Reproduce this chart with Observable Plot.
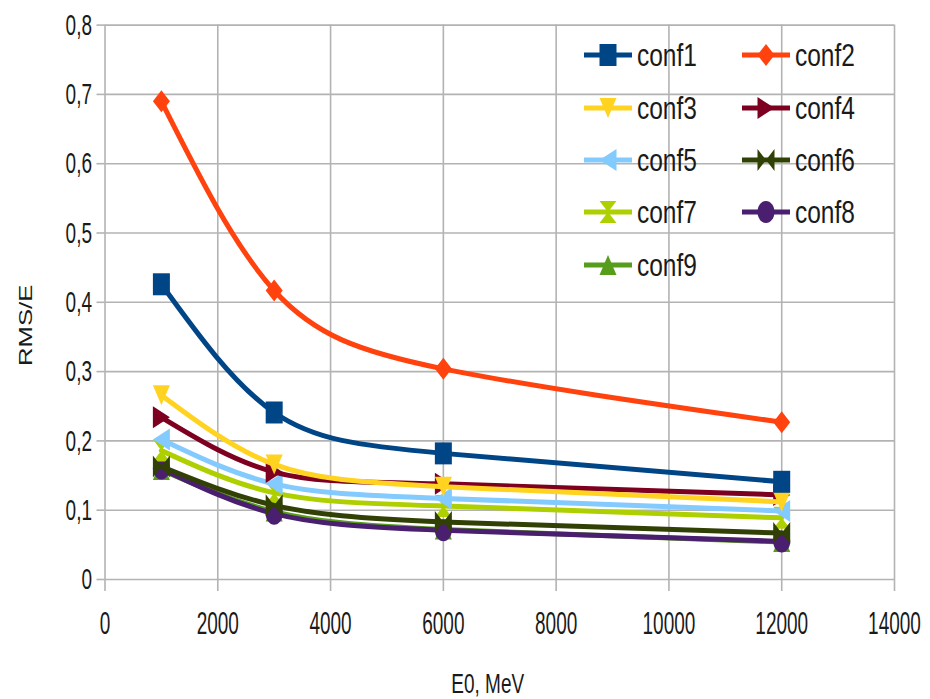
<!DOCTYPE html>
<html>
<head>
<meta charset="utf-8">
<script src="https://cdn.jsdelivr.net/npm/d3@7"></script>
<script src="https://cdn.jsdelivr.net/npm/@observablehq/plot@0.6"></script>
<style>
  html, body { margin: 0; padding: 0; background: #fff; }
  #chart svg { display: block; }
</style>
</head>
<body>
<div id="chart"></div>
<script>
// ---------- data ----------
const energies = [1000, 3000, 6000, 12000];
const seriesNames = ["conf1", "conf2", "conf3", "conf4", "conf5", "conf6", "conf7", "conf8", "conf9"];
const conf1 = [0.426, 0.241, 0.182, 0.141];
const conf2 = [0.690, 0.417, 0.304, 0.227];
const conf3 = [0.266, 0.166, 0.134, 0.112];
const conf4 = [0.234, 0.155, 0.138, 0.122];
const conf5 = [0.202, 0.138, 0.117, 0.099];
const conf6 = [0.163, 0.107, 0.083, 0.067];
const conf7 = [0.186, 0.125, 0.106, 0.089];
const conf8 = [0.160, 0.095, 0.071, 0.055];
const conf9 = [0.158, 0.098, 0.072, 0.054];
const seriesValues = [conf1, conf2, conf3, conf4, conf5, conf6, conf7, conf8, conf9];
const xTicks = [0, 2000, 4000, 6000, 8000, 10000, 12000, 14000];
const yTicks = [0, 0.1, 0.2, 0.3, 0.4, 0.5, 0.6, 0.7, 0.8];
const colors = ["#004586", "#ff420e", "#ffd320", "#7e0021", "#83caff", "#314004", "#aecf00", "#4b1f6f", "#579d1c"];

// ---------- symbols (slightly tall, like the reference) ----------
const W = 8.5, H = 11;
function poly(ctx, pts) {
  ctx.moveTo(pts[0][0], pts[0][1]);
  for (let i = 1; i < pts.length; i++) ctx.lineTo(pts[i][0], pts[i][1]);
  ctx.closePath();
}
const symSquare = { draw(c) { poly(c, [[-W, -H], [W, -H], [W, H], [-W, H]]); } };
const symDiamond = { draw(c) { poly(c, [[0, -H], [W, 0], [0, H], [-W, 0]]); } };
const symTriDown = { draw(c) { poly(c, [[-W, -H + 1], [W, -H + 1], [0, H - 1]]); } };
const symTriRight = { draw(c) { poly(c, [[-W, -H], [W, 0], [-W, H]]); } };
const symTriLeft = { draw(c) { poly(c, [[W, -H], [-W, 0], [W, H]]); } };
const symBowtie = { draw(c) { poly(c, [[-W, -H], [0, 0], [-W, H]]); poly(c, [[W, -H], [0, 0], [W, H]]); } };
const symHourglass = { draw(c) { poly(c, [[-W, -H], [W, -H], [0, 0]]); poly(c, [[-W, H], [W, H], [0, 0]]); } };
const symEllipse = { draw(c) {
  const k = 0.5523, a = W, b = H;
  c.moveTo(a, 0);
  c.bezierCurveTo(a, k * b, k * a, b, 0, b);
  c.bezierCurveTo(-k * a, b, -a, k * b, -a, 0);
  c.bezierCurveTo(-a, -k * b, -k * a, -b, 0, -b);
  c.bezierCurveTo(k * a, -b, a, -k * b, a, 0);
  c.closePath();
} };
const symTriUp = { draw(c) { poly(c, [[0, -H + 1], [W, H - 1], [-W, H - 1]]); } };
const symbols = [symSquare, symDiamond, symTriDown, symTriRight, symTriLeft, symBowtie, symHourglass, symEllipse, symTriUp];

// ---------- table ----------
const rows = seriesNames.flatMap((s, i) => energies.map((e, j) => ({ series: s, E: e, v: seriesValues[i][j] })));

const fmtY = d => d === 0 ? "0" : d.toFixed(1).replace(".", ",");
const fmtX = d => String(d);
const GRID = "#b3b3b3";
const INK = "#1a1a1a";
const FONT = "'Liberation Sans', Arial, sans-serif";

const seriesMarks = [];
for (let i = seriesNames.length - 1; i >= 0; i--) {
  const d = rows.filter(r => r.series === seriesNames[i]);
  seriesMarks.push(Plot.line(d, { x: "E", y: "v", stroke: colors[i], strokeWidth: 5, curve: "natural", strokeLinejoin: "round" }));
  seriesMarks.push(Plot.dot(d, { x: "E", y: "v", symbol: symbols[i], r: 9, fill: colors[i], stroke: "none" }));
}

const chart = Plot.plot({
  width: 930,
  height: 699,
  marginLeft: 104.5,
  marginRight: 36,
  marginTop: 24.6,
  marginBottom: 120,
  style: { fontFamily: FONT, fontSize: "20px", color: INK, background: "#fff" },
  x: { domain: [0, 14000] },
  y: { domain: [0, 0.8] },
  marks: [
    Plot.gridX(xTicks, { stroke: GRID, strokeOpacity: 1, strokeWidth: 1.6 }),
    Plot.gridY(yTicks, { stroke: GRID, strokeOpacity: 1, strokeWidth: 1.6 }),
    Plot.axisX(xTicks, { stroke: GRID, strokeWidth: 1.6, tickSize: 12, tickPadding: 20, tickFormat: fmtX, label: null, fill: INK, fontSize: 20 }),
    Plot.axisY(yTicks, { stroke: GRID, strokeWidth: 1.6, tickSize: 8, tickPadding: 5, tickFormat: fmtY, label: null, fill: INK, fontSize: 20 }),
    Plot.text(["RMS/E"], { frameAnchor: "left", textAnchor: "middle", dx: -79, dy: 23, rotate: -90, fontSize: 19, fill: INK, className: "ylab" }),
    Plot.text(["E0, MeV"], { frameAnchor: "bottom", textAnchor: "middle", dx: -12, dy: 113, fontSize: 19, fill: INK, className: "xlab" }),
    ...seriesMarks
  ]
});

// vertical stretch of the text, as in the reference picture
function stretch(sel, sx, sy) {
  sel.each(function () {
    const t = this.getAttribute("transform") || "";
    this.setAttribute("transform", t + ` scale(${sx},${sy})`);
  });
}
const svg = d3.select(chart);
stretch(svg.selectAll("g[aria-label='x-axis tick label'] text"), 0.95, 1.55);
stretch(svg.selectAll("g[aria-label='y-axis tick label'] text"), 0.95, 1.5);
stretch(svg.selectAll(".ylab text"), 1.35, 1);
stretch(svg.selectAll(".xlab text"), 1, 1.45);

// ---------- legend (inside plot, no background) ----------
const legend = svg.append("g").attr("class", "legend");
const colX = [608, 766];
const rowY = [55, 108, 160, 212, 265];
seriesNames.forEach((s, i) => {
  const cx = colX[i % 2], cy = rowY[Math.floor(i / 2)];
  const g = legend.append("g").attr("transform", `translate(${cx},${cy})`);
  g.append("line").attr("x1", -24).attr("x2", 24).attr("y1", 0).attr("y2", 0)
    .attr("stroke", colors[i]).attr("stroke-width", 5);
  g.append("path").attr("d", d3.symbol(symbols[i])()).attr("fill", colors[i]);
  g.append("text").attr("x", 29).attr("y", 0).attr("dy", "0.36em")
    .attr("text-anchor", "start")
    .attr("font-family", FONT)
    .attr("font-size", 24.5).attr("fill", INK)
    .attr("transform", "scale(1,1.3)")
    .text(s);
});

document.getElementById("chart").appendChild(chart);
</script>
</body>
</html>
